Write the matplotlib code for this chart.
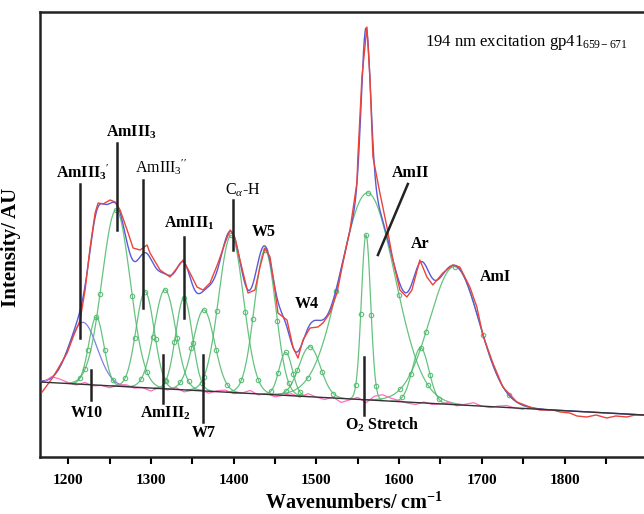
import numpy as np
import matplotlib
matplotlib.use("Agg")
import matplotlib.pyplot as plt

plt.rcParams['font.family'] = ['Liberation Serif', 'DejaVu Serif']
plt.rcParams['mathtext.fontset'] = 'custom'
plt.rcParams['mathtext.rm'] = 'Liberation Serif'
plt.rcParams['mathtext.bf'] = 'Liberation Serif:bold'
plt.rcParams['mathtext.it'] = 'Liberation Serif:italic'

# ---------------- data ----------------
# fitted band components: centre (cm-1), height above baseline (AU), width sigma (cm-1)
comp_centers = [1218, 1234, 1258, 1293, 1317, 1340, 1364, 1397, 1438, 1463, 1492, 1562, 1560, 1626, 1667]
comp_heights = [62, 68, 176, 96, 99, 92, 81, 157, 144, 43, 50, 207, 165, 55, 138]
comp_sigmas = [17, 9, 17, 11, 13, 10, 13, 15, 13, 8, 13, 33, 5.6, 10, 30]
comp_is_blue = [True] + [False] * 14

# linear baseline end points
baseline_x = [1166, 1896]
baseline_y = [75, 42]

spec_x = [1168.6, 1181.9, 1198.8, 1206.0, 1214.5, 1220.5, 1226.6, 1232.6, 1236.2, 1242.3,
          1250.7, 1256.8, 1262.8, 1271.3, 1278.5, 1287.0, 1295.4, 1299.0, 1311.1, 1323.2,
          1331.6, 1338.9, 1347.3, 1355.8, 1363.0, 1371.5, 1381.2, 1389.6, 1395.7, 1401.7,
          1407.7, 1417.4, 1425.8, 1431.9, 1437.9, 1444.0, 1450.0, 1453.6, 1464.5, 1471.7,
          1477.8, 1483.8, 1492.3, 1501.9, 1508.0, 1516.4, 1524.9, 1532.1, 1540.6, 1549.0,
          1550.2, 1555.1, 1561.1, 1564.7, 1568.4, 1576.8, 1585.3, 1592.5, 1601.0, 1609.4,
          1615.5, 1625.1, 1633.6, 1640.8, 1652.9, 1665.0, 1673.4, 1685.5, 1694.0, 1701.2,
          1713.3, 1725.4, 1742.3, 1758.0, 1770.0, 1785.7, 1795.0, 1806.3, 1815.0, 1826.8,
          1838.0, 1851.0, 1862.0, 1875.1, 1885.0, 1895.7]
spec_y = [65, 80, 104, 120, 137, 167, 210, 244, 254, 253,
          257, 255, 247, 227, 209, 207, 212, 204, 187, 180,
          189, 197, 184, 170, 167, 174, 194, 214, 227, 219,
          197, 164, 167, 190, 209, 200, 167, 144, 137, 110,
          99, 117, 129, 130, 134, 144, 164, 194, 227, 274,
          300, 380, 430, 380, 300, 264, 230, 197, 167, 160,
          167, 197, 180, 172, 184, 192, 190, 170, 150, 122,
          94, 70, 55, 50, 47, 47, 45, 44, 41, 40,
          42, 39, 41, 40, 42, 42]

# fit residual (offset about the baseline), every 10 cm-1 from 1170 to 1750
resid_x0, resid_step = 1170, 10
resid_vals = [0, 6, 4, 1, -1, 2, -1, 0, -2, 1, 2, -1, 0, -3, 1, -1, 2, -2, 0, 1,
              -2, 1, 2, -1, 0, 3, -1, 1, -2, 0, 2, -1, 3, 0, -2, 1, -4, -1, 2, -3,
              4, 6, 3, 1, -1, -2, 1, -1, 0, 2, -1, 1, 3, 0, -1, 1, 2, 0, -1]

# annotations: text, x, y, weight
labels = [
    (r"AmIII$_\mathbf{3}$$^{\prime}$", 1218, 285, 'bold'),
    (r"AmIII$_\mathbf{3}$", 1277, 325, 'bold'),
    (r"AmIII$_3$$^{\prime\prime}$", 1312, 290, 'normal'),
    (r"AmIII$_\mathbf{1}$", 1347, 234, 'bold'),
    (r"C$_\alpha$-H", 1411, 267, 'normal'),
    ("W5", 1437, 225, 'bold'),
    ("W4", 1489, 153, 'bold'),
    ("AmII", 1614, 284, 'bold'),
    ("Ar", 1626, 213, 'bold'),
    ("AmI", 1716, 180, 'bold'),
    ("W10", 1222, 44, 'bold'),
    (r"AmIII$_\mathbf{2}$", 1318, 44, 'bold'),
    ("W7", 1364, 24, 'bold'),
    (r"O$_\mathbf{2}$ Stretch", 1579, 32, 'bold'),
]
# marker lines: x0, y0, x1, y1
marker_lines = [
    (1214.5, 273, 1214.5, 119),
    (1259, 314, 1259, 227),
    (1290.6, 277, 1290.6, 149),
    (1340, 220, 1340, 139),
    (1399, 257, 1399, 207),
    (1610.6, 273, 1574.4, 202),
    (1228, 87, 1228, 57),
    (1315, 102, 1315, 54),
    (1363, 102, 1363, 35),
    (1557.5, 100, 1557.5, 42),
]

# ---------------- plotting ----------------
x = np.linspace(1166, 1896, 1461)
base = np.interp(x, baseline_x, baseline_y)


def gauss(xx, c, h, s):
    return h * np.exp(-(xx - c) ** 2 / (2 * s * s))


fig = plt.figure(figsize=(6.44, 5.14), dpi=100)
ax = fig.add_axes([40 / 644, 1 - 457 / 514, 1 - 40 / 644, (457 - 12) / 514])

green = '#4cb86a'
total = base.copy()
for c, h, s, isb in zip(comp_centers, comp_heights, comp_sigmas, comp_is_blue):
    g = gauss(x, c, h, s)
    total += g
    mask = np.abs(x - c) < 3.6 * s
    col = '#6a6ae0' if isb else green
    ax.plot(x[mask], (g + base)[mask], color=col, lw=0.9, alpha=0.85, zorder=2)
    if not isb:
        mx = np.array([c - 2.2 * s, c - 1.15 * s, c, c + 1.15 * s, c + 2.2 * s])
        my = gauss(mx, c, h, s) + np.interp(mx, baseline_x, baseline_y)
        ax.plot(mx, my, ls='none', marker='o', ms=3.2, mfc='none', mec=green,
                mew=0.8, alpha=0.9, zorder=2)

ax.plot(x, total, color='#5a5ad8', lw=1.0, zorder=3)
ax.plot(spec_x, spec_y, color='#e8453c', lw=1.0, zorder=4)

rx = resid_x0 + resid_step * np.arange(len(resid_vals))
ry = np.interp(rx, baseline_x, baseline_y) + np.array(resid_vals)
ax.plot(rx, ry, color='#ff6fbf', lw=0.9, zorder=3)
ax.plot(baseline_x, baseline_y, color='#333333', lw=1.0, zorder=5)

for x0, y0, x1, y1 in marker_lines:
    ax.plot([x0, x1], [y0, y1], color='#222222', lw=1.8, zorder=6)
for t, tx, ty, w in labels:
    ax.text(tx, ty, t, ha='center', va='center', fontsize=11.5, fontweight=w, zorder=7)

ax.text(1631, 414, r"194 nm excitation gp41$_{\mathrm{659-671}}$", ha='left', va='center',
        fontsize=12)

ax.set_xlim(1166, 1896)
ax.set_ylim(0, 445)
ax.set_xticks([1200, 1300, 1400, 1500, 1600, 1700, 1800])
ax.set_xticks(np.arange(1250, 1900, 100), minor=True)
ax.set_yticks([])
ax.spines['right'].set_visible(False)
for sp in ['left', 'bottom', 'top']:
    ax.spines[sp].set_linewidth(1.8)
    ax.spines[sp].set_color('#222222')
ax.tick_params(axis='x', which='both', direction='out', length=5, width=1.5, pad=7)
for lab in ax.get_xticklabels():
    lab.set_fontweight('bold')
    lab.set_fontsize(11)
ax.set_xlabel(r"Wavenumbers/ cm$^\mathbf{-1}$", fontsize=14.5, fontweight='bold')
ax.xaxis.set_label_coords((354 - 40) / 604, -(493 - 457) / 445)
ax.set_ylabel("Intensity/ AU", fontsize=15, fontweight='bold')
ax.yaxis.set_label_coords(-19 / 604, (457 - 247) / 445)

fig.savefig("out.png", dpi=100)
